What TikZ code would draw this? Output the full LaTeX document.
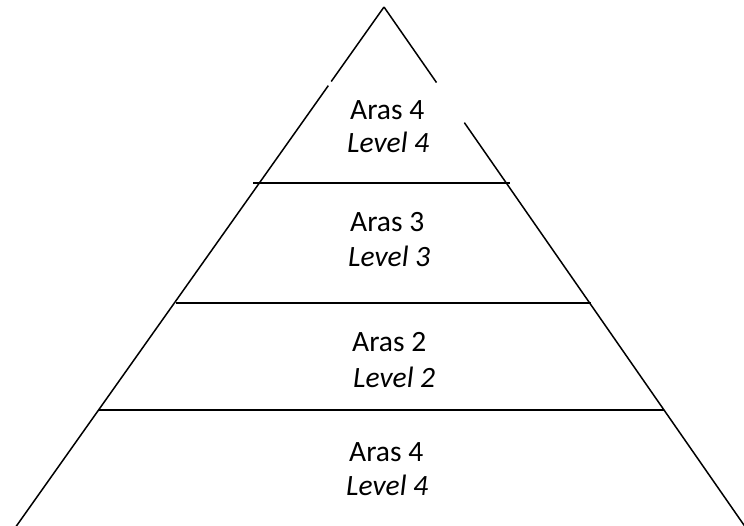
\documentclass[tikz,border=0pt]{standalone}
\usepackage{fontspec}
\setmainfont{Carlito}
\usetikzlibrary{calc}
\begin{document}
\begin{tikzpicture}[x=1pt,y=-1pt,
  edge/.style={line width=1.5pt,black},
  lbl/.style={anchor=base west,inner sep=0pt,font=\fontsize{29.5}{35}\selectfont},
  lvl/.style={lbl,font=\fontsize{29.5}{35}\selectfont\itshape}]
\useasboundingbox (0,0) rectangle (744,526);
\coordinate (apex) at (384,7);
\coordinate (bl) at (15,528);
\coordinate (br) at (746,528);
% side breaks
\coordinate (lg1) at ($(apex)!0.143!(bl)$);
\coordinate (lg2) at ($(apex)!0.151!(bl)$);
\coordinate (rg1) at ($(apex)!0.145!(br)$);
\coordinate (rg2) at ($(apex)!0.222!(br)$);
\draw[edge] (apex) -- (lg1);
\draw[edge] (lg2) -- (bl);
\draw[edge] (apex) -- (rg1);
\draw[edge] (rg2) -- (br);
% dividers
\coordinate (h1a) at (253,183);
\coordinate (h1b) at (510,183);
\coordinate (h2a) at (176,303);
\coordinate (h2b) at (591,303);
\coordinate (h3a) at (98,410);
\coordinate (h3b) at (664,410);
\draw[edge] (h1a) -- (h1b);
\draw[edge] (h2a) -- (h2b);
\draw[edge] (h3a) -- (h3b);
% labels
\node[lbl] (a4) at (350,120) {Aras 4};
\node[lvl] (l4) at (347,153) {Level 4};
\node[lbl] (a3) at (350,232) {Aras 3};
\node[lvl] (l3) at (348,267) {Level 3};
\node[lbl] (a2) at (352,352) {Aras 2};
\node[lvl] (l2) at (353,387) {Level 2};
\node[lbl] (a1) at (349,461) {Aras 4};
\node[lvl] (l1) at (346,495) {Level 4};
\end{tikzpicture}
\end{document}
